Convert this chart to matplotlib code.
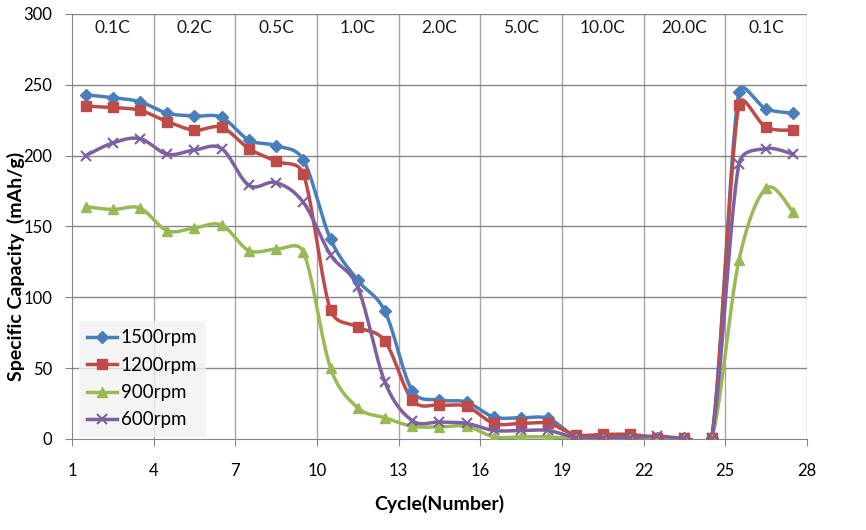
import numpy as np
import matplotlib
matplotlib.use("Agg")
import matplotlib.pyplot as plt
from matplotlib.lines import Line2D

# data
cycles = [1.5, 2.5, 3.5, 4.5, 5.5, 6.5, 7.5, 8.5, 9.5,
          10.5, 11.5, 12.5, 13.5, 14.5, 15.5, 16.5, 17.5, 18.5,
          19.5, 20.5, 21.5, 22.5, 23.5, 24.5, 25.5, 26.5, 27.5]
rpm1500 = [243, 241, 238, 230, 228, 227, 211, 207, 197,
           141, 112, 90, 34, 27.5, 26, 15.5, 15, 14.5,
           2, 2, 2, 1, 0.5, 0.5, 245, 233, 230]
rpm1200 = [235, 234, 232, 224, 218, 220, 205, 196, 187,
           91, 79, 69, 27.5, 24, 23, 11, 11, 11,
           3, 3.3, 3.3, 1, 0.5, 0.5, 236, 220, 218]
rpm900 = [164, 162, 163, 147, 149, 151, 133, 134, 132,
          50, 22, 15, 9, 8.5, 9, 1.5, 1.5, 1.5,
          0, 0, 0, 0.5, 0, 0, 126, 177, 160]
rpm600 = [200, 209, 212, 201, 204, 205, 179, 181, 167,
          130, 107, 40, 13, 12, 11, 6, 6, 6,
          1, 1, 1, 2, 0.5, 0.5, 194, 205, 201]
rates = ["0.1C", "0.2C", "0.5C", "1.0C", "2.0C", "5.0C", "10.0C", "20.0C", "0.1C"]
rate_pos = [2.5, 5.5, 8.5, 11.5, 14.5, 17.5, 20.5, 23.5, 26.5]

series = [("1500rpm", rpm1500, "#4A7EBB", "D", 6),
          ("1200rpm", rpm1200, "#BE4B48", "s", 7),
          ("900rpm", rpm900, "#98B954", "^", 7),
          ("600rpm", rpm600, "#7D60A0", "x", 7)]

# pixel size of one unit on each axis, smoothing is done in screen space like excel
PX_X = 27.2
PX_Y = 1.4167


# excel style smoothed line (bezier through the points, arms capped)
def smooth(x, y, n=24):
    pts = np.column_stack([np.array(x) * PX_X, np.array(y) * PX_Y])
    p = np.vstack([pts[0], pts, pts[-1]])
    t = np.linspace(0, 1, n, endpoint=False)[:, None]

    def arm(a, c, seg):
        d = c - a
        L = np.hypot(*d)
        if L == 0:
            return np.zeros(2)
        return d / L * min(L / 6, seg / 2)

    out = []
    for i in range(1, len(p) - 2):
        p0, p1, p2, p3 = p[i - 1], p[i], p[i + 1], p[i + 2]
        seg = np.hypot(*(p2 - p1))
        c1 = p1 + arm(p0, p2, seg)
        c2 = p2 - arm(p1, p3, seg)
        out.append((1 - t)**3 * p1 + 3 * (1 - t)**2 * t * c1 + 3 * (1 - t) * t**2 * c2 + t**3 * p2)
    out.append(pts[-1:])
    s = np.vstack(out)
    return s[:, 0] / PX_X, s[:, 1] / PX_Y


plt.rcParams["font.family"] = ["Lato", "DejaVu Sans"]

fig = plt.figure(figsize=(8.66, 5.30), dpi=100)
ax = fig.add_axes([0.0831, 0.1717, 0.8487, 0.8019])

for xg in range(4, 29, 3):
    ax.axvline(xg, color="#a6a6a6", lw=1, zorder=0)
for yg in range(50, 301, 50):
    ax.axhline(yg, color="#868686", lw=1, zorder=0)

handles = []
for name, vals, col, mk, ms in series:
    sx, sy = smooth(cycles, vals)
    ax.plot(sx, sy, color=col, lw=2.5, zorder=2)
    mew = 1.5 if mk == "x" else 1
    ax.plot(cycles, vals, ls="none", marker=mk, ms=ms, color=col, mew=mew, zorder=3)
    handles.append(Line2D([], [], color=col, lw=2.5, marker=mk, ms=ms, mew=mew))

for lab, xp in zip(rates, rate_pos):
    ax.text(xp, 290, lab, ha="center", va="center", fontsize=12.5, color="#1a1a1a")

ax.set_xlim(1, 28)
ax.set_ylim(0, 300)
ax.set_xticks(range(1, 29, 3))
ax.set_yticks(range(0, 301, 50))
ax.tick_params(labelsize=12, length=5, color="#868686", direction="out")
ax.tick_params(axis="x", pad=12)
ax.tick_params(axis="y", pad=9)
for s in ["top", "right"]:
    ax.spines[s].set_visible(False)
for s in ["left", "bottom"]:
    ax.spines[s].set_color("#868686")

ax.set_xlabel("Cycle(Number)", fontsize=14, fontweight="bold", labelpad=12)
ax.set_ylabel("Specific Capacity  (mAh/g)", fontsize=14, fontweight="bold")
ax.yaxis.set_label_coords(-0.064, 0.405)

leg = ax.legend(handles, [s[0] for s in series], loc="lower left",
                bbox_to_anchor=(0.009, 0.005), borderaxespad=0, fontsize=13.5,
                frameon=True, handlelength=1.6, handletextpad=0.2,
                labelspacing=0.55, borderpad=0.45, fancybox=False)
leg.get_frame().set_facecolor("#f2f2f2")
leg.get_frame().set_edgecolor("none")

fig.savefig("out.png", dpi=100)
